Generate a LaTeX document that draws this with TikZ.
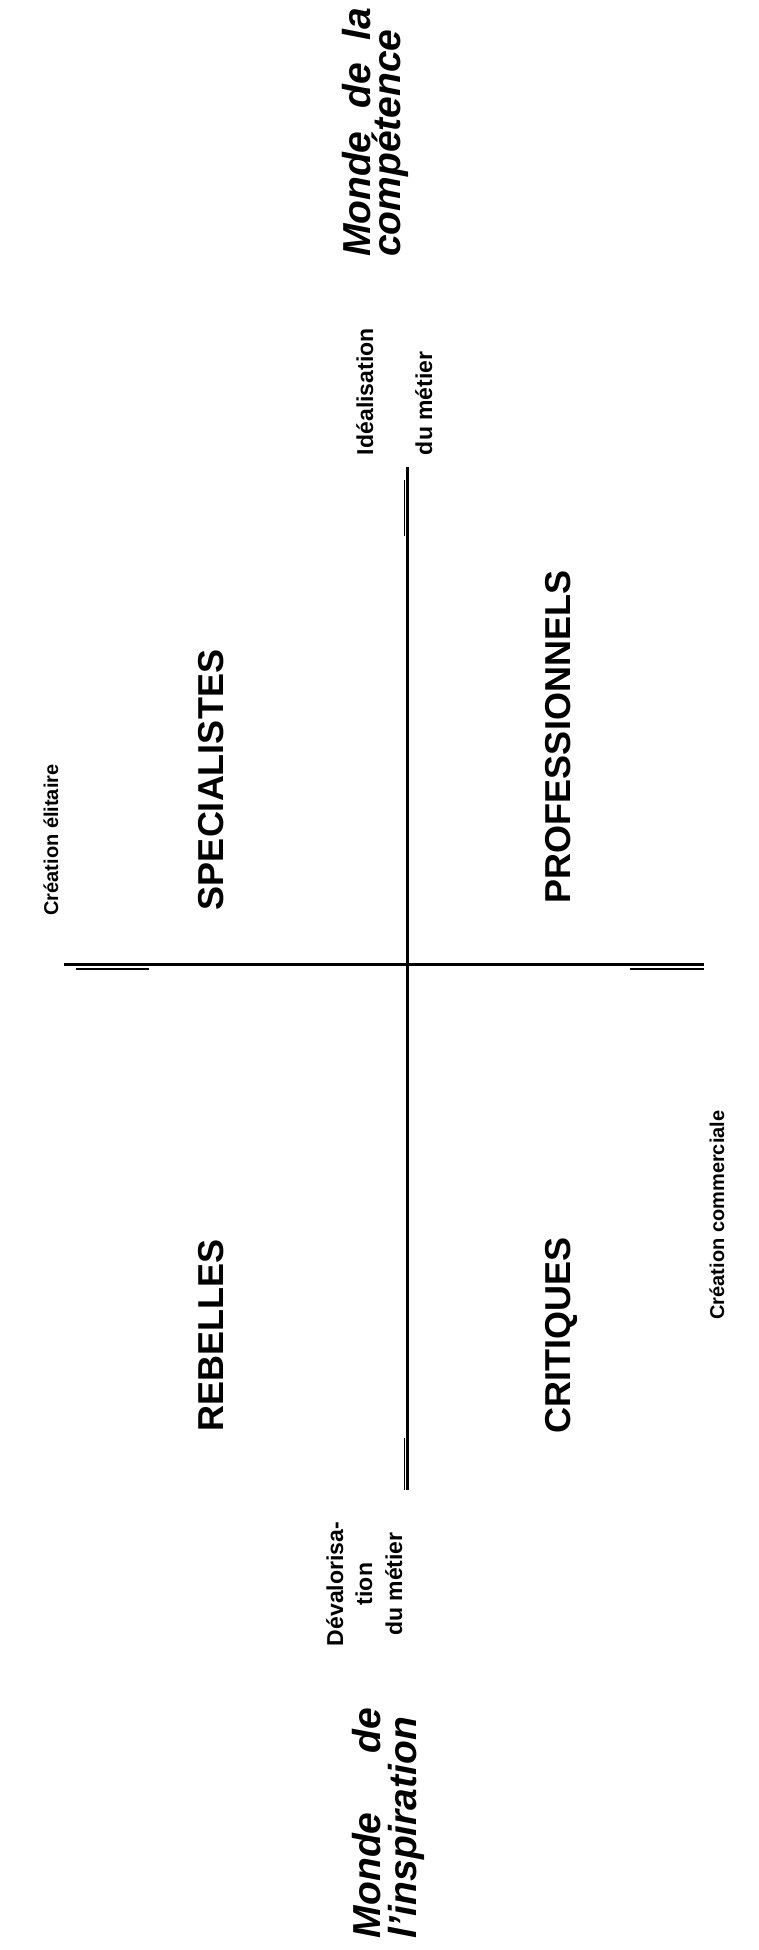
\documentclass[tikz,border=0pt]{standalone}
\usepackage{fontspec}
\setmainfont{Liberation Sans}
\begin{document}
\begin{tikzpicture}[x=1pt,y=-1pt,
  every node/.style={inner sep=0pt, outer sep=0pt, rotate=90},
  quad/.style={font=\fontsize{36}{43}\selectfont\bfseries},
  small/.style={font=\fontsize{23}{29.5}\selectfont\bfseries},
  tiny/.style={font=\fontsize{20}{24}\selectfont\bfseries},
  head/.style={font=\fontsize{39}{45}\selectfont\bfseries\itshape},
  axis/.style={line width=3pt, black},
  dbl/.style={line width=1.6pt, black}]
\useasboundingbox (0,0) rectangle (758,1950);
% axes
\coordinate (hL) at (64,964);
\coordinate (hR) at (704,964);
\coordinate (vT) at (407.7,467);
\coordinate (vB) at (407.7,1490);
\draw[axis] (hL) -- (hR);
\draw[axis] (vT) -- (vB);
% short parallel marks
\coordinate (mL1) at (76,968.7);
\coordinate (mL2) at (149,968.7);
\coordinate (mR1) at (630,968.7);
\coordinate (mR2) at (704,968.7);
\coordinate (mT1) at (404.6,480);
\coordinate (mT2) at (404.6,536);
\coordinate (mB1) at (404.6,1438);
\coordinate (mB2) at (404.6,1490);
\draw[dbl] (mL1) -- (mL2);
\draw[dbl] (mR1) -- (mR2);
\draw[dbl] (mT1) -- (mT2);
\draw[dbl] (mB1) -- (mB2);
% headings
\node[head, anchor=base west] (h1a) at (370,257) {\makebox[249pt][s]{Monde de la}};
\node[head, anchor=base west] (h1b) at (400,257) {compétence};
\node[head, anchor=base west] (h2a) at (380,1938) {\makebox[230pt][s]{Monde de}};
\node[head, anchor=base west] (h2b) at (416,1938) {l’inspiration};
% pole labels
\node[small, anchor=base west] (ia) at (373,455) {Idéalisation};
\node[small, anchor=base west] (ib) at (432,455) {du métier};
\node[small, anchor=base] (da) at (343,1584) {Dévalorisa-};
\node[small, anchor=base] (db) at (372,1584) {tion};
\node[small, anchor=base] (dc) at (402,1584) {du métier};
\node[tiny, anchor=base] (ce) at (58,840) {Création élitaire};
\node[tiny, anchor=base] (cc) at (724,1215) {Création commerciale};
% quadrants
\node[quad, anchor=base] (spec) at (223,780) {SPECIALISTES};
\node[quad, anchor=base] (prof) at (570,737) {PROFESSIONNELS};
\node[quad, anchor=base] (reb) at (223,1335) {REBELLES};
\node[quad, anchor=base] (crit) at (570,1335) {CRITIQUES};
\end{tikzpicture}
\end{document}
